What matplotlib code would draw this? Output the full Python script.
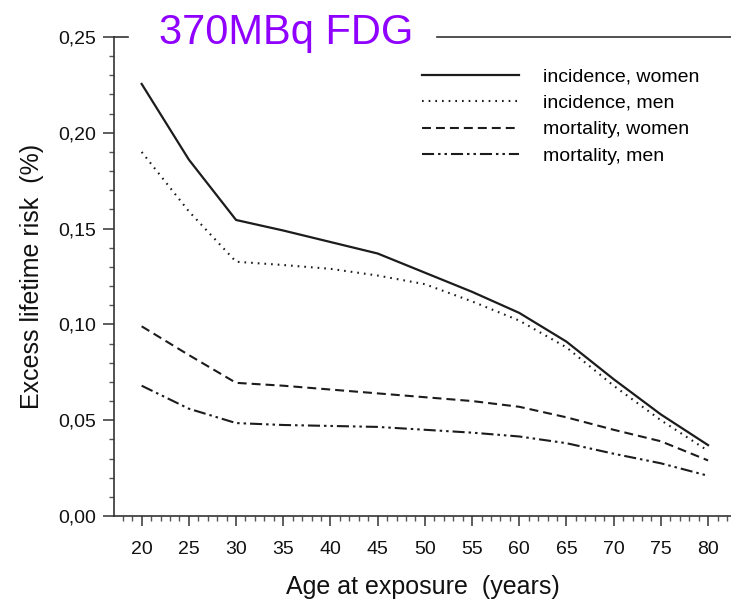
"""
Excess lifetime risk vs. age at exposure for a 370 MBq FDG scan.
Recreated as a static figure -> out.png
"""

import matplotlib
matplotlib.use("Agg")
import matplotlib.pyplot as plt
from matplotlib.ticker import MultipleLocator, FuncFormatter

plt.rcParams["font.family"] = ["Liberation Sans", "DejaVu Sans"]

# ----------------------------------------------------------------------
# Data
# ----------------------------------------------------------------------

ages = [20, 25, 30, 35, 40, 45, 50, 55, 60, 65, 70, 75, 80]

incidence_women = [0.2255, 0.186, 0.1545, 0.149, 0.143, 0.137, 0.127,
                   0.117, 0.106, 0.091, 0.0714, 0.053, 0.037]
incidence_men = [0.190, 0.159, 0.1327, 0.131, 0.129, 0.1255, 0.121,
                 0.112, 0.102, 0.088, 0.068, 0.050, 0.034]
mortality_women = [0.099, 0.084, 0.0695, 0.068, 0.066, 0.064, 0.062,
                   0.060, 0.057, 0.0515, 0.045, 0.039, 0.029]
mortality_men = [0.068, 0.056, 0.0485, 0.0475, 0.047, 0.0465, 0.045,
                 0.0435, 0.0415, 0.038, 0.0325, 0.0275, 0.021]

labels = ["incidence, women", "incidence, men",
          "mortality, women", "mortality, men"]

# ----------------------------------------------------------------------
# Figure
# ----------------------------------------------------------------------

W, H = 731, 603
AX_L, AX_R, AX_T, AX_B = 114, W, 37, 516
fig = plt.figure(figsize=(W / 100, H / 100), dpi=100)
ax = fig.add_axes([AX_L / W, 1 - AX_B / H, (AX_R - AX_L) / W, (AX_B - AX_T) / H])

ink = "#1c1c1c"
frame = "#333333"
series = [incidence_women, incidence_men, mortality_women, mortality_men]
styles = [
    dict(linestyle="-", linewidth=1.6),
    dict(linestyle=(0, (0.8, 2.4)), linewidth=1.5),
    dict(linestyle=(0, (4.3, 2.4)), linewidth=1.5),
    dict(linestyle=(0, (5.8, 1.9, 1.2, 1.9, 1.2, 1.9)), linewidth=1.5),
]
for vals, lab, st in zip(series, labels, styles):
    ax.plot(ages, vals, color=ink, label=lab, **st)

ax.set_xlim(17.07, 82.43)
ax.set_ylim(0, 0.25)

ax.xaxis.set_minor_locator(MultipleLocator(1))
ax.yaxis.set_major_locator(MultipleLocator(0.05))
ax.yaxis.set_minor_locator(MultipleLocator(0.01))
ax.set_xticks(ages)
ax.yaxis.set_major_formatter(FuncFormatter(lambda v, p: f"{v:.2f}".replace(".", ",")))

ax.tick_params(which="major", direction="out", length=7, width=1.1,
               color=frame, labelsize=14, labelcolor="#111111")
ax.tick_params(axis="x", which="major", pad=11)
ax.tick_params(axis="y", which="major", pad=5, length=8)
ax.tick_params(which="minor", direction="out", length=3.5, width=1.0,
               color="#555555")

for side in ["left", "bottom"]:
    ax.spines[side].set_linewidth(1.2)
    ax.spines[side].set_color(frame)
ax.spines["right"].set_visible(False)
ax.spines["top"].set_visible(False)

# top frame line, broken where the heading sits
gap_l = (128 - AX_L) / (AX_R - AX_L)
gap_r = (437 - AX_L) / (AX_R - AX_L)
ax.axhline(0.25, 0, gap_l, color=frame, linewidth=1.2, clip_on=False)
ax.axhline(0.25, gap_r, 1, color=frame, linewidth=1.2, clip_on=False)

ax.set_xlabel("Age at exposure  (years)", fontsize=18, color="#111111",
              labelpad=12)
ax.set_ylabel("Excess lifetime risk  (%)", fontsize=18, color="#111111",
              labelpad=10)

ax.legend(loc="upper left", bbox_to_anchor=(422 / W, 1 - 68 / H),
          bbox_transform=fig.transFigure, frameon=False, fontsize=14,
          handlelength=5.0, handletextpad=1.2, labelspacing=0.45,
          borderpad=0, borderaxespad=0)

# purple heading sitting on the top frame line
fig.text(286 / W, 1 - 44 / H, "370MBq FDG", fontsize=30, color="#8f00ff",
         ha="center", va="baseline")

fig.savefig("out.png", dpi=100)
